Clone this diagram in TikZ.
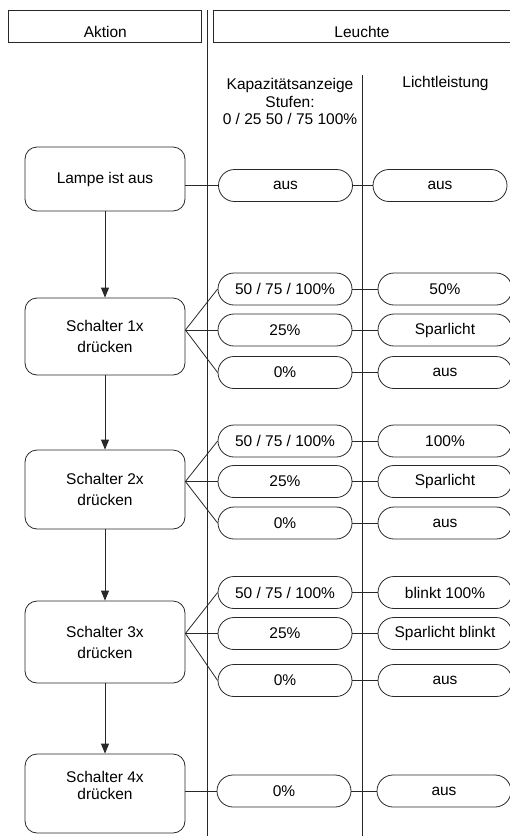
\documentclass[tikz,border=0pt]{standalone}
\usepackage{fontspec}
\setmainfont{Liberation Sans}
\definecolor{lineGray}{RGB}{40,40,40}
\usetikzlibrary{arrows.meta,positioning}

\begin{document}
\begin{tikzpicture}[x=1pt, y=-1pt, font=\fontsize{15.5}{18}\selectfont,
  headbox/.style={draw=lineGray, line width=0.8pt, minimum height=32pt, text height=22pt, text depth=0pt, inner sep=0pt},
  actbox/.style={draw=lineGray, line width=0.8pt, rounded corners=12pt, minimum width=160pt, align=center, font=\fontsize{15.5}{21}\selectfont},
  pill/.style={draw=lineGray, line width=0.8pt, rounded corners=16pt, minimum width=134pt, minimum height=32pt, inner sep=0pt},
  link/.style={draw=lineGray, line width=0.8pt},
  flow/.style={link, -{Triangle[length=10pt,width=8pt]}}]
  \useasboundingbox (0,0) rectangle (510,836);
  \node[headbox, minimum width=193pt] (aktion) at (105.3,26) {Aktion};
  \node[headbox, minimum width=298pt] (leuchte) at (362,26) {Leuchte};
  \draw[link] (207.7,10) -- (207.7,836);
  \draw[link] (362.7,75) -- (362.7,836);
  \node[align=center, font=\fontsize{15.5}{17.5}\selectfont] (kapaz) at (290,101.5) {Kapazitätsanzeige\\Stufen:\\0 / 25 50 / 75 100\%};
  \node (licht) at (445.5,83) {Lichtleistung};

  \node[actbox, minimum height=64pt] (lampe) at (105,179) {Lampe ist aus};
  \node[actbox, minimum height=77pt] (s1) at (105,336.5) {Schalter 1x\\drücken};
  \node[actbox, minimum height=79pt] (s2) at (105,489.5) {Schalter 2x\\drücken};
  \node[actbox, minimum height=82pt] (s3) at (105,642) {Schalter 3x\\drücken};
  \node[actbox, minimum height=79pt, label={[align=center, font=\fontsize{15.5}{17}\selectfont, yshift=8pt]center:Schalter 4x\\drücken}] (s4) at (105,793.5) {};

  \node[pill] (k0) at (285.5,185.5) {aus};
  \node[pill] (l0) at (440,185.5) {aus};

  \node[pill] (k1a) at (285,289) {50 / 75 / 100\%};
  \node[pill] (k1b) at (285,330) {25\%};
  \node[pill] (k1c) at (285,372.5) {0\%};
  \node[pill] (l1a) at (445,289) {50\%};
  \node[pill] (l1b) at (445,330) {Sparlicht};
  \node[pill] (l1c) at (445,372.5) {aus};

  \node[pill] (k2a) at (285,441) {50 / 75 / 100\%};
  \node[pill] (k2b) at (285,481.5) {25\%};
  \node[pill] (k2c) at (285,523) {0\%};
  \node[pill] (l2a) at (445,441) {100\%};
  \node[pill] (l2b) at (445,481.5) {Sparlicht};
  \node[pill] (l2c) at (445,523) {aus};

  \node[pill] (k3a) at (285,592.5) {50 / 75 / 100\%};
  \node[pill] (k3b) at (285,633.5) {25\%};
  \node[pill] (k3c) at (285,680.5) {0\%};
  \node[pill] (l3a) at (445,592.5) {blinkt 100\%};
  \node[pill] (l3b) at (445,633.5) {Sparlicht blinkt};
  \node[pill] (l3c) at (445,680.5) {aus};

  \node[pill] (k4) at (284,791) {0\%};
  \node[pill] (l4) at (444,791) {aus};

  \draw[flow] (lampe.south) -- (s1.north);
  \draw[flow] (s1.south) -- (s2.north);
  \draw[flow] (s2.south) -- (s3.north);
  \draw[flow] (s3.south) -- (s4.north);

  \draw[link] (lampe.east |- k0.west) -- (k0.west);
  \draw[link] (k0.east) -- (l0.west);

  \draw[link] (s1.east |- k1b.west) -- (k1a.west);
  \draw[link] (s1.east |- k1b.west) -- (k1b.west);
  \draw[link] (s1.east |- k1b.west) -- (k1c.west);
  \draw[link] (k1a.east) -- (l1a.west);
  \draw[link] (k1b.east) -- (l1b.west);
  \draw[link] (k1c.east) -- (l1c.west);

  \draw[link] (s2.east |- k2b.west) -- (k2a.west);
  \draw[link] (s2.east |- k2b.west) -- (k2b.west);
  \draw[link] (s2.east |- k2b.west) -- (k2c.west);
  \draw[link] (k2a.east) -- (l2a.west);
  \draw[link] (k2b.east) -- (l2b.west);
  \draw[link] (k2c.east) -- (l2c.west);

  \draw[link] (s3.east |- k3b.west) -- (k3a.west);
  \draw[link] (s3.east |- k3b.west) -- (k3b.west);
  \draw[link] (s3.east |- k3b.west) -- (k3c.west);
  \draw[link] (k3a.east) -- (l3a.west);
  \draw[link] (k3b.east) -- (l3b.west);
  \draw[link] (k3c.east) -- (l3c.west);

  \draw[link] (s4.east |- k4.west) -- (k4.west);
  \draw[link] (k4.east) -- (l4.west);
\end{tikzpicture}
\end{document}
